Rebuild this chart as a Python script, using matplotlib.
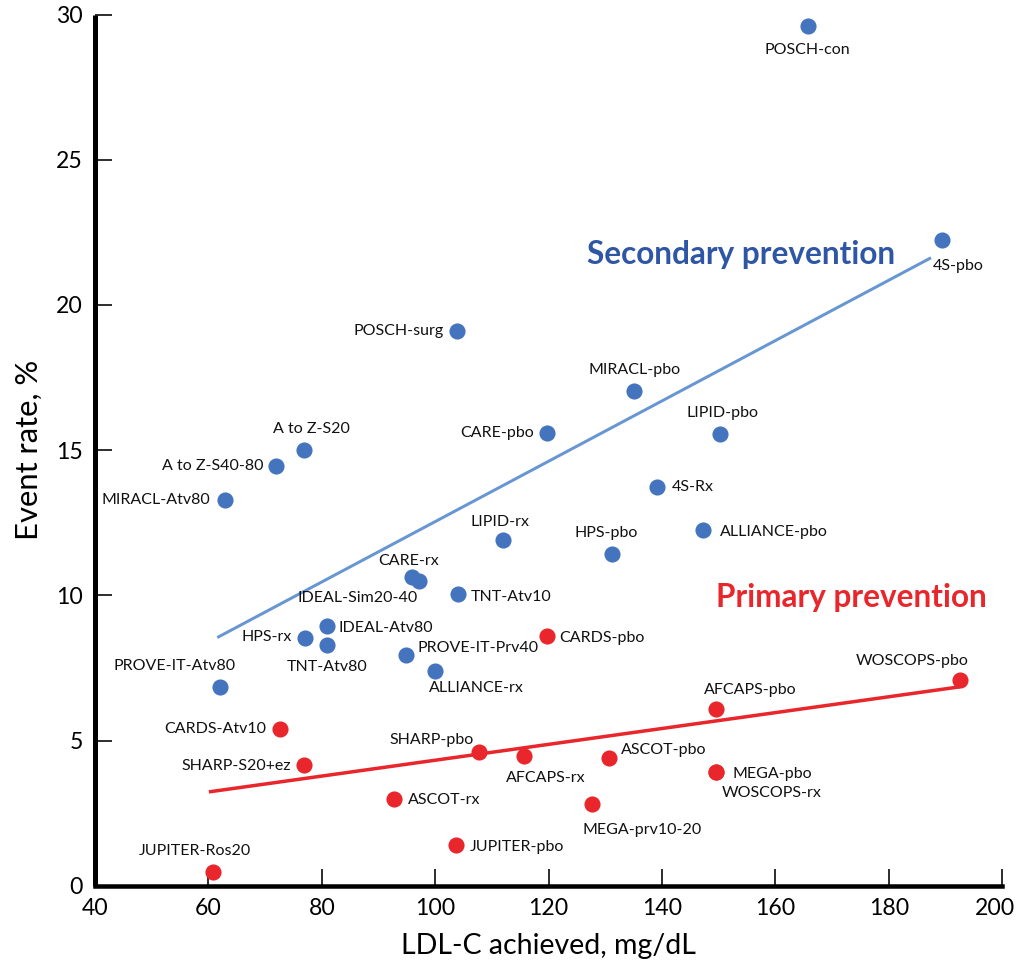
import matplotlib.pyplot as plt
from matplotlib.transforms import ScaledTranslation

plt.rcParams['font.family'] = ['Lato', 'Noto Sans', 'DejaVu Sans']

# Secondary prevention trials (blue)
sec_names = ['POSCH-con', '4S-pbo', 'POSCH-surg', 'MIRACL-pbo', 'CARE-pbo', 'LIPID-pbo',
             'A to Z-S20', 'A to Z-S40-80', 'MIRACL-Atv80', '4S-Rx', 'ALLIANCE-pbo',
             'LIPID-rx', 'HPS-pbo', 'CARE-rx', 'IDEAL-Sim20-40', 'TNT-Atv10',
             'IDEAL-Atv80', 'HPS-rx', 'TNT-Atv80', 'PROVE-IT-Prv40', 'ALLIANCE-rx',
             'PROVE-IT-Atv80']
sec_ldl = [165.7, 189.4, 103.9, 135.1, 119.7, 150.2, 76.9, 72.0, 63.0, 139.1, 147.2,
           112.0, 131.1, 95.9, 97.1, 104.0, 81.0, 77.1, 81.0, 94.9, 100.0, 62.1]
sec_rate = [29.6, 22.24, 19.09, 17.03, 15.58, 15.54, 15.02, 14.47, 13.27, 13.74, 12.24,
            11.92, 11.44, 10.62, 10.51, 10.05, 8.93, 8.53, 8.30, 7.93, 7.41, 6.83]

# Primary prevention trials (red)
pri_names = ['CARDS-pbo', 'WOSCOPS-pbo', 'AFCAPS-pbo', 'CARDS-Atv10', 'SHARP-pbo',
             'AFCAPS-rx', 'ASCOT-pbo', 'SHARP-S20+ez', 'MEGA-pbo', 'WOSCOPS-rx',
             'ASCOT-rx', 'MEGA-prv10-20', 'JUPITER-pbo', 'JUPITER-Ros20']
pri_ldl = [119.7, 192.6, 149.6, 72.7, 107.7, 115.7, 130.7, 76.8, 149.6, 149.6,
           92.7, 127.7, 103.7, 60.8]
pri_rate = [8.59, 7.09, 6.08, 5.39, 4.59, 4.48, 4.39, 4.16, 3.93, 3.93,
            2.98, 2.81, 1.40, 0.48]

# trend lines (end points)
sec_fit_x = [61.8, 187.2]
sec_fit_y = [8.57, 21.6]
pri_fit_x = [60.4, 192.2]
pri_fit_y = [3.24, 6.84]

# label placement: (dx, dy, ha) in points
sec_lab = [(0, -24, 'center'), (-9, -26, 'left'), (-14, 0, 'right'), (0, 21, 'center'),
           (-13, 0, 'right'), (3, 21, 'center'), (7, 21, 'center'), (-13, 0, 'right'),
           (-15, 0, 'right'), (15, 0, 'left'), (17, -2, 'left'), (-3, 18, 'center'),
           (-5, 21, 'center'), (-3, 16, 'center'), (-61, -17, 'center'), (13, -3, 'left'),
           (11, -2, 'left'), (-13, 1, 'right'), (0, -22, 'center'), (11, 7, 'left'),
           (41, -17, 'center'), (-46, 21, 'center')]
pri_lab = [(12, -2, 'left'), (-48, 19, 'center'), (34, 19, 'center'), (-14, 0, 'right'),
           (-47, 12, 'center'), (22, -22, 'center'), (12, 8, 'left'), (-13, -1, 'right'),
           (16, -2, 'left'), (5, -21, 'left'), (14, -1, 'left'), (50, -26, 'center'),
           (14, -2, 'left'), (-18, 21, 'center')]

blue = '#4574BE'
red = '#E8262B'

fig = plt.figure(figsize=(1016 / 72, 968 / 72), dpi=72)
ax = fig.add_axes([0.0935, 0.085, 0.893, 0.9])

ax.plot(sec_fit_x, sec_fit_y, color='#6796D2', lw=3, zorder=2)
ax.plot(pri_fit_x, pri_fit_y, color=red, lw=3.5, zorder=2)
ax.scatter(sec_ldl, sec_rate, s=260, color=blue, linewidths=0, zorder=3)
ax.scatter(pri_ldl, pri_rate, s=260, color=red, linewidths=0, zorder=3)

for name, x, y, (dx, dy, ha) in zip(sec_names, sec_ldl, sec_rate, sec_lab):
    ax.annotate(name, (x, y), xytext=(dx, dy), textcoords='offset points',
                ha=ha, va='center', fontsize=16, color='#111111')
for name, x, y, (dx, dy, ha) in zip(pri_names, pri_ldl, pri_rate, pri_lab):
    ax.annotate(name, (x, y), xytext=(dx, dy), textcoords='offset points',
                ha=ha, va='center', fontsize=16, color='#111111')

ax.text(126.8, 21.75, 'Secondary prevention', color='#2F56A5', fontsize=31.5,
        fontweight='bold', ha='left', va='center')
ax.text(149.5, 9.92, 'Primary prevention', color=red, fontsize=31.5,
        fontweight='bold', ha='left', va='center')

ax.set_xlim(40, 200)
ax.set_ylim(0, 30)
ax.set_xticks(range(40, 201, 20))
ax.set_yticks(range(0, 31, 5))
ax.spines['top'].set_visible(False)
ax.spines['right'].set_visible(False)
ax.spines['left'].set_linewidth(5)
ax.spines['bottom'].set_linewidth(4.5)
ax.spines['left'].set_capstyle('butt')
ax.tick_params(direction='in', length=17, width=1.6, labelsize=23, pad=12)
ax.set_xlabel('LDL-C achieved, mg/dL', fontsize=28.5, labelpad=14)
ax.set_ylabel('Event rate, %', fontsize=31, labelpad=13)

# last x tick label sits a little to the left so it stays on the canvas
last = ax.get_xticklabels()[-1]
last.set_transform(last.get_transform() + ScaledTranslation(-7 / 72, 0, fig.dpi_scale_trans))

fig.savefig('out.png', dpi=72)
